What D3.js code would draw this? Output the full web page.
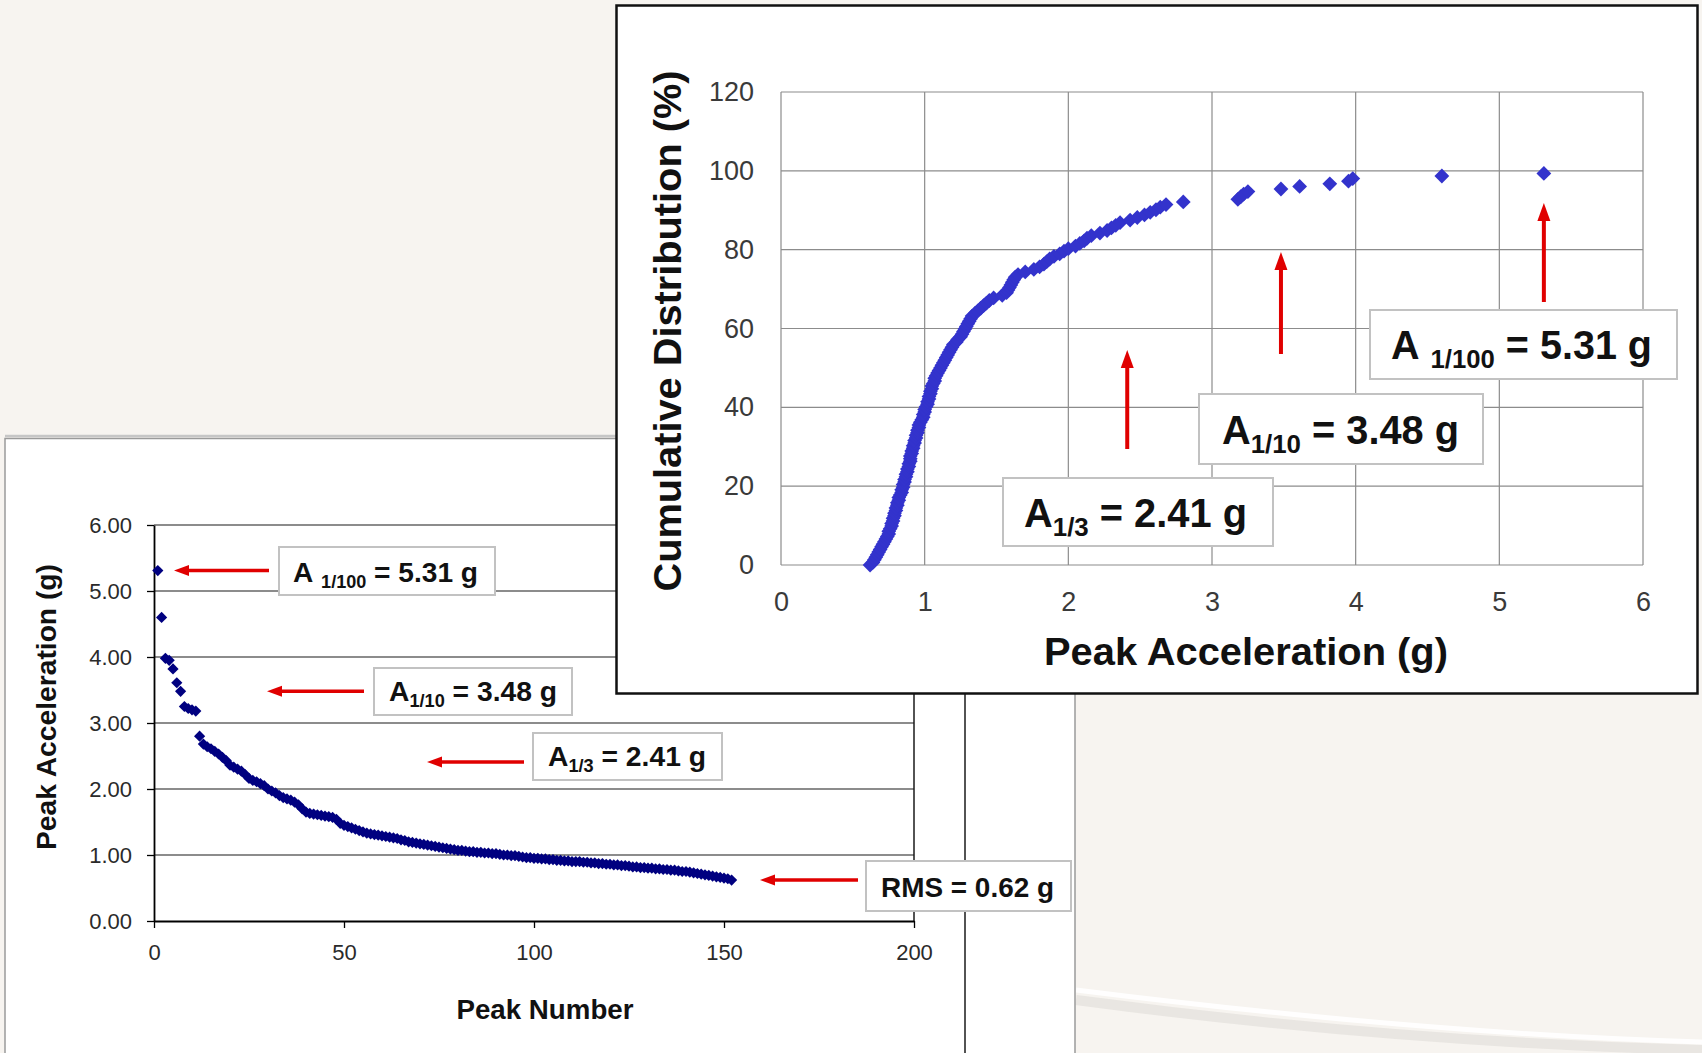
<!DOCTYPE html>
<html>
<head>
<meta charset="utf-8">
<script src="https://cdn.jsdelivr.net/npm/d3@7"></script>
<style>
  html, body { margin: 0; padding: 0; background: #f7f4f0; overflow: hidden; }
  svg { display: block; }
  text { font-family: "Liberation Sans", Arial, Helvetica, sans-serif; }
</style>
</head>
<body>
<svg id="chart" width="1702" height="1053"></svg>
<script>
// Peak accelerations of the recorded shock peaks, largest first (g)
const peakAccel = [
  5.31, 4.60, 3.98, 3.95, 3.82, 3.61, 3.48, 3.25, 3.22, 3.20,
  3.18, 2.80, 2.68, 2.64, 2.61, 2.57, 2.53, 2.48, 2.43, 2.36,
  2.33, 2.30, 2.27, 2.22, 2.16, 2.13, 2.11, 2.08, 2.05, 2.00,
  1.97, 1.94, 1.90, 1.87, 1.85, 1.83, 1.80, 1.76, 1.70, 1.65,
  1.63, 1.62, 1.61, 1.60, 1.59, 1.58, 1.57, 1.54, 1.48, 1.45,
  1.43, 1.41, 1.39, 1.37, 1.35, 1.33, 1.32, 1.31, 1.30, 1.29,
  1.28, 1.27, 1.26, 1.25, 1.23, 1.22, 1.20, 1.19, 1.18, 1.17,
  1.16, 1.15, 1.14, 1.13, 1.12, 1.11, 1.10, 1.09, 1.08, 1.07,
  1.07, 1.06, 1.05, 1.05, 1.04, 1.04, 1.03, 1.03, 1.02, 1.02,
  1.01, 1.00, 1.00, 0.99, 0.99, 0.98, 0.97, 0.96, 0.96, 0.95,
  0.95, 0.94, 0.94, 0.93, 0.93, 0.92, 0.92, 0.91, 0.91, 0.90,
  0.90, 0.90, 0.89, 0.89, 0.88, 0.88, 0.87, 0.87, 0.86, 0.86,
  0.85, 0.85, 0.84, 0.84, 0.83, 0.82, 0.82, 0.81, 0.81, 0.80,
  0.80, 0.79, 0.79, 0.78, 0.78, 0.77, 0.77, 0.76, 0.75, 0.75,
  0.74, 0.73, 0.72, 0.71, 0.70, 0.69, 0.68, 0.67, 0.66, 0.65,
  0.64, 0.62
];

// Summary statistics of the peaks (g)
const statKeys   = ["A", "A", "A", "RMS"];
const statSubs   = ["1/100", "1/10", "1/3", ""];
const statSpaced = [true, false, false, false];
const statValues = [5.31, 3.48, 2.41, 0.62];

// Axis ticks
const peakNumTicks  = [0, 50, 100, 150, 200];
const peakAccTicks  = [0, 1, 2, 3, 4, 5, 6];
const cdfAccTicks   = [0, 1, 2, 3, 4, 5, 6];
const cdfPctTicks   = [0, 20, 40, 60, 80, 100, 120];

// Cumulative distribution: share of peaks below each value, ascending
const ascending = peakAccel.slice().sort((a, b) => a - b);
const cdfPoints = ascending.map((v, i) => ({ v, pct: i / ascending.length * 100 }));

const svg = d3.select("#chart");
const diamond = r => `M0,${-r}L${r},0L0,${r}L${-r},0Z`;

// ---------- soft backdrop swoosh ----------
svg.append("path")
  .attr("d", "M1076,1000 C1300,1030 1500,1045 1702,1050")
  .attr("fill", "none").attr("stroke", "#e2dfdc").attr("stroke-width", 10).attr("opacity", 0.7);
svg.append("path")
  .attr("d", "M1076,990 C1300,1018 1500,1036 1702,1042")
  .attr("fill", "none").attr("stroke", "#ffffff").attr("stroke-width", 5).attr("opacity", 0.9);

// ---------- lower-left panel: peaks in order of magnitude ----------
svg.append("line").attr("x1", 5).attr("x2", 1075).attr("y1", 436).attr("y2", 436)
  .attr("stroke", "#c6c6c6").attr("stroke-width", 2.5);
svg.append("rect")
  .attr("x", 5).attr("y", 438.5).attr("width", 1070).attr("height", 640)
  .attr("fill", "#fff").attr("stroke", "#9a9a9a").attr("stroke-width", 1.5);
svg.append("line").attr("x1", 965).attr("x2", 965).attr("y1", 438).attr("y2", 1053)
  .attr("stroke", "#1a1a1a").attr("stroke-width", 1.5);

const xL = d3.scaleLinear().domain([0, 200]).range([154, 914]);
const yL = d3.scaleLinear().domain([0, 6]).range([921, 525]);

const left = svg.append("g");

left.append("g").selectAll("line")
  .data(peakAccTicks.filter(d => d > 0))
  .join("line")
  .attr("x1", xL(0)).attr("x2", xL(200))
  .attr("y1", d => yL(d)).attr("y2", d => yL(d))
  .attr("stroke", "#1a1a1a").attr("stroke-width", 1.2);

left.append("line")
  .attr("x1", xL(200)).attr("x2", xL(200)).attr("y1", yL(6)).attr("y2", yL(0))
  .attr("stroke", "#1a1a1a").attr("stroke-width", 1.5);

const axL = left.append("g").attr("transform", `translate(${xL(0)},0)`)
  .call(d3.axisLeft(yL).tickValues(peakAccTicks).tickFormat(d3.format(".2f"))
    .tickSize(7).tickSizeOuter(0).tickPadding(15));
const axB = left.append("g").attr("transform", `translate(0,${yL(0)})`)
  .call(d3.axisBottom(xL).tickValues(peakNumTicks).tickFormat(d3.format("d"))
    .tickSize(7).tickSizeOuter(0).tickPadding(16));
[axL, axB].forEach(a => {
  a.select(".domain").attr("stroke", "#000").attr("stroke-width", 1.8);
  a.selectAll(".tick line").attr("stroke", "#000").attr("stroke-width", 1.3);
  a.selectAll(".tick text").attr("font-size", 22).attr("fill", "#2a2a2a")
    .attr("font-family", "Liberation Sans, Arial, sans-serif");
});

left.append("g").selectAll("path")
  .data(peakAccel)
  .join("path")
  .attr("d", diamond(5.6))
  .attr("transform", (d, i) => `translate(${xL(i + 1)},${yL(d)})`)
  .attr("fill", "#000080");

left.append("text")
  .attr("x", 545).attr("y", 1019).attr("text-anchor", "middle")
  .attr("font-size", 27).attr("font-weight", "bold").attr("fill", "#111")
  .attr("textLength", 177).attr("lengthAdjust", "spacingAndGlyphs")
  .text("Peak Number");
left.append("text")
  .attr("transform", "translate(56,707) rotate(-90)")
  .attr("text-anchor", "middle")
  .attr("font-size", 27).attr("font-weight", "bold").attr("fill", "#111")
  .attr("textLength", 286).attr("lengthAdjust", "spacingAndGlyphs")
  .text("Peak Acceleration (g)");

// label boxes with arrows pointing at each statistic
function statLabel(g, i, box, textX, baseline, size, width) {
  g.append("rect")
    .attr("x", box[0]).attr("y", box[1]).attr("width", box[2]).attr("height", box[3])
    .attr("fill", "#fff").attr("stroke", "#c2c2c2").attr("stroke-width", 2);
  const sub = Math.round(size * 0.65), shift = Math.round(size * 0.22);
  const t = g.append("text")
    .attr("x", textX).attr("y", baseline)
    .attr("font-size", size).attr("font-weight", "bold").attr("fill", "#111")
    .attr("textLength", width).attr("lengthAdjust", "spacingAndGlyphs");
  if (statSubs[i]) {
    t.append("tspan").text(statKeys[i] + (statSpaced[i] ? "\u00a0" : ""));
    t.append("tspan").attr("font-size", sub).attr("dy", shift).text(statSubs[i]);
    t.append("tspan").attr("dy", -shift).text(` = ${statValues[i].toFixed(2)} g`);
  } else {
    t.append("tspan").text(`${statKeys[i]} = ${statValues[i].toFixed(2)} g`);
  }
}

function arrowLeft(g, tipX, tailX, y) {
  g.append("line").attr("x1", tailX).attr("x2", tipX + 12).attr("y1", y).attr("y2", y)
    .attr("stroke", "#e00000").attr("stroke-width", 3.5);
  g.append("path")
    .attr("d", `M${tipX},${y}L${tipX + 15},${y - 5.5}L${tipX + 15},${y + 5.5}Z`)
    .attr("fill", "#e00000");
}

const leftBoxes = [
  { box: [279, 547, 216, 48], tx: 293, base: 582, w: 185, tip: 174, tail: 269 },
  { box: [374, 668, 198, 47], tx: 389, base: 701, w: 168, tip: 267, tail: 364 },
  { box: [533, 733, 189, 47], tx: 548, base: 766, w: 158, tip: 427, tail: 524 },
  { box: [866, 861, 205, 50], tx: 881, base: 897, w: 173, tip: 760, tail: 858 }
];
leftBoxes.forEach((b, i) => {
  arrowLeft(left, b.tip, b.tail, yL(statValues[i]));
  statLabel(left, i, b.box, b.tx, b.base, 28, b.w);
});

// ---------- upper-right panel: cumulative distribution ----------
const right = svg.append("g");
right.append("rect")
  .attr("x", 616.5).attr("y", 5.5).attr("width", 1081).attr("height", 688)
  .attr("fill", "#fff").attr("stroke", "#111").attr("stroke-width", 2.5);

const xR = d3.scaleLinear().domain([0, 6]).range([781, 1643]);
const yR = d3.scaleLinear().domain([0, 120]).range([565, 92]);

right.append("g").selectAll("line")
  .data(cdfAccTicks)
  .join("line")
  .attr("x1", d => xR(d)).attr("x2", d => xR(d)).attr("y1", yR(0)).attr("y2", yR(120))
  .attr("stroke", "#8c8c8c").attr("stroke-width", 1.2);
right.append("g").selectAll("line")
  .data(cdfPctTicks)
  .join("line")
  .attr("x1", xR(0)).attr("x2", xR(6)).attr("y1", d => yR(d)).attr("y2", d => yR(d))
  .attr("stroke", "#8c8c8c").attr("stroke-width", 1.2);

const axRL = right.append("g").attr("transform", `translate(${xR(0)},0)`)
  .call(d3.axisLeft(yR).tickValues(cdfPctTicks).tickFormat(d3.format("d"))
    .tickSize(0).tickPadding(27));
const axRB = right.append("g").attr("transform", `translate(0,${yR(0)})`)
  .call(d3.axisBottom(xR).tickValues(cdfAccTicks).tickFormat(d3.format("d"))
    .tickSize(0).tickPadding(27));
[axRL, axRB].forEach(a => {
  a.select(".domain").remove();
  a.selectAll(".tick text").attr("font-size", 27).attr("fill", "#3a3a3a")
    .attr("font-family", "Liberation Sans, Arial, sans-serif");
});

right.append("g").selectAll("path")
  .data(cdfPoints)
  .join("path")
  .attr("d", diamond(7.4))
  .attr("transform", d => `translate(${xR(d.v)},${yR(d.pct)})`)
  .attr("fill", "#3333cc");

right.append("text")
  .attr("x", 1246).attr("y", 665).attr("text-anchor", "middle")
  .attr("font-size", 38).attr("font-weight", "bold").attr("fill", "#111")
  .attr("textLength", 404).attr("lengthAdjust", "spacingAndGlyphs")
  .text("Peak Acceleration (g)");
right.append("text")
  .attr("transform", "translate(681,331) rotate(-90)")
  .attr("text-anchor", "middle")
  .attr("font-size", 38).attr("font-weight", "bold").attr("fill", "#111")
  .attr("textLength", 521).attr("lengthAdjust", "spacingAndGlyphs")
  .text("Cumulative Distribution (%)");

function arrowUp(g, x, tipY, tailY) {
  g.append("line").attr("x1", x).attr("x2", x).attr("y1", tailY).attr("y2", tipY + 14)
    .attr("stroke", "#e00000").attr("stroke-width", 4);
  g.append("path")
    .attr("d", `M${x},${tipY}L${x - 6.5},${tipY + 18}L${x + 6.5},${tipY + 18}Z`)
    .attr("fill", "#e00000");
}

const rightBoxes = [
  { box: [1370, 310, 307, 69], tx: 1391, base: 359, w: 261, tip: 203, tail: 302 },
  { box: [1199, 394, 284, 70], tx: 1222, base: 444, w: 237, tip: 252, tail: 354 },
  { box: [1003, 478, 270, 68], tx: 1024, base: 527, w: 223, tip: 350, tail: 449 }
];
rightBoxes.forEach((b, i) => {
  arrowUp(right, xR(statValues[i]), b.tip, b.tail);
  statLabel(right, i, b.box, b.tx, b.base, 40, b.w);
});
</script>
</body>
</html>
